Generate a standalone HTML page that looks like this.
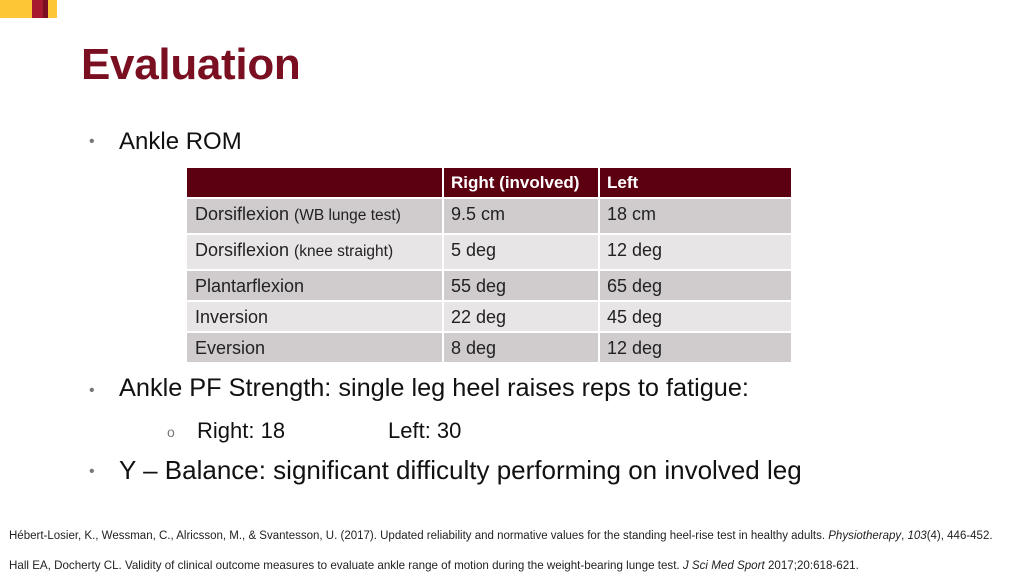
<!DOCTYPE html>
<html><head><meta charset="utf-8"><style>
body{margin:0;width:1024px;height:576px;background:#fff;position:relative;overflow:hidden;font-family:"Liberation Sans",sans-serif;color:#111}
.a{position:absolute;white-space:nowrap}
.c{position:absolute;}
.t{position:absolute;font-size:18px;color:#222;white-space:nowrap}
.s{font-size:15.5px}
</style></head><body>
<div class="c" style="left:0;top:0;width:57px;height:18px;background:#fdc636"></div>
<div class="c" style="left:32px;top:0;width:11px;height:18px;background:#a6192e"></div>
<div class="c" style="left:43px;top:0;width:5px;height:18px;background:#7a0f22"></div>
<div class="a" style="left:81px;top:40px;font-size:44px;font-weight:bold;color:#7a0f22;letter-spacing:-0.3px">Evaluation</div>
<div class="a" style="left:89px;top:133px;font-size:16px;color:#777">•</div>
<div class="a" style="left:119px;top:128px;font-size:24px">Ankle ROM</div>
<div class="c" style="left:187px;top:168px;width:604px;height:29px;background:#5c0011"></div>
<div class="c" style="left:187px;top:199px;width:604px;height:34px;background:#d0cbcc"></div>
<div class="c" style="left:187px;top:235px;width:604px;height:34px;background:#e8e5e6"></div>
<div class="c" style="left:187px;top:271px;width:604px;height:29px;background:#d0cbcc"></div>
<div class="c" style="left:187px;top:302px;width:604px;height:29px;background:#e8e5e6"></div>
<div class="c" style="left:187px;top:333px;width:604px;height:29px;background:#d0cbcc"></div>
<div class="c" style="left:442px;top:168px;width:2px;height:194px;background:#fff"></div>
<div class="c" style="left:598px;top:168px;width:2px;height:194px;background:#fff"></div>
<div class="t" style="left:451px;top:173px;color:#fff;font-weight:bold;font-size:17px">Right (involved)</div>
<div class="t" style="left:607px;top:173px;color:#fff;font-weight:bold;font-size:17px">Left</div>
<div class="t" style="left:195px;top:204px">Dorsiflexion <span class="s">(WB lunge test)</span></div>
<div class="t" style="left:451px;top:204px">9.5 cm</div><div class="t" style="left:607px;top:204px">18 cm</div>
<div class="t" style="left:195px;top:240px">Dorsiflexion <span class="s">(knee straight)</span></div>
<div class="t" style="left:451px;top:240px">5 deg</div><div class="t" style="left:607px;top:240px">12 deg</div>
<div class="t" style="left:195px;top:276px">Plantarflexion</div>
<div class="t" style="left:451px;top:276px">55 deg</div><div class="t" style="left:607px;top:276px">65 deg</div>
<div class="t" style="left:195px;top:307px">Inversion</div>
<div class="t" style="left:451px;top:307px">22 deg</div><div class="t" style="left:607px;top:307px">45 deg</div>
<div class="t" style="left:195px;top:338px">Eversion</div>
<div class="t" style="left:451px;top:338px">8 deg</div><div class="t" style="left:607px;top:338px">12 deg</div>
<div class="a" style="left:89px;top:382px;font-size:16px;color:#777">•</div>
<div class="a" style="left:119px;top:374px;font-size:25.3px">Ankle PF Strength: single leg heel raises reps to fatigue:</div>
<div class="a" style="left:167px;top:424px;font-size:14px;color:#777">o</div>
<div class="a" style="left:197px;top:418px;font-size:22px">Right: 18</div>
<div class="a" style="left:388px;top:418px;font-size:22px">Left: 30</div>
<div class="a" style="left:89px;top:463px;font-size:16px;color:#777">•</div>
<div class="a" style="left:119px;top:455px;font-size:26px">Y – Balance: significant difficulty performing on involved leg</div>
<div class="a" style="left:9px;top:530px;font-size:11.5px;color:#222">Hébert-Losier, K., Wessman, C., Alricsson, M., &amp; Svantesson, U. (2017). Updated reliability and normative values for the standing heel-rise test in healthy adults. <i>Physiotherapy</i>, <i>103</i>(4), 446-452.</div>
<div class="a" style="left:9px;top:559px;font-size:11.6px;color:#222">Hall EA, Docherty CL. Validity of clinical outcome measures to evaluate ankle range of motion during the weight-bearing lunge test. <i>J Sci Med Sport</i> 2017;20:618-621.</div>
</body></html>
